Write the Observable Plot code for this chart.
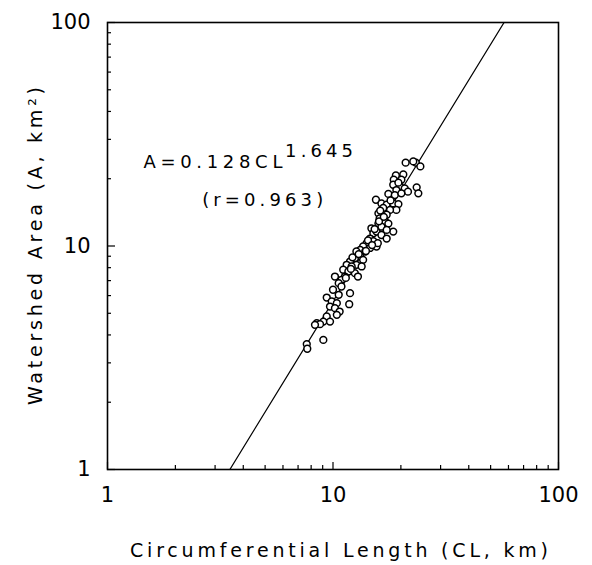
<!DOCTYPE html>
<html><head><meta charset="utf-8">
<script src="https://cdn.jsdelivr.net/npm/d3@7"></script>
<script src="https://cdn.jsdelivr.net/npm/@observablehq/plot@0.6"></script>
<style>body{margin:0;background:#fff}</style>
</head><body><div id="chart"></div>
<script>
// Circumferential length (km) and watershed area (km²) of each basin
const cl = [21.0, 23.3, 24.4, 22.7, 19.0, 20.5, 18.6, 20.1, 18.5, 19.8, 20.8, 19.1, 21.5, 23.5, 23.9, 17.6, 18.8, 20.1,
  15.5, 16.4, 17.3, 18.5, 19.5, 19.1, 17.9, 16.7, 15.9, 17.3, 16.1, 17.0, 17.6, 15.9, 16.4, 18.5, 17.3, 14.8, 15.1, 15.6,
  16.4, 17.3, 14.6, 15.1, 14.1, 13.6, 14.6, 15.6, 13.2, 13.9, 12.7, 13.2, 12.5, 13.6, 11.9, 11.5, 12.7, 12.1, 13.4, 11.1,
  11.7, 12.5, 10.2, 11.3, 12.9, 10.9, 10.6, 10.0, 10.9, 11.9, 10.6, 9.38, 9.87, 10.4, 9.70, 10.2, 10.7, 11.8, 10.4, 9.38,
  9.06, 8.47, 8.76, 9.70, 8.32, 9.06, 7.65, 7.69,
  14.3, 15.3, 16.0, 14.0, 13.0, 15.8, 16.8, 12.2, 16.2, 18.0, 19.5, 11.4, 12.0, 14.9];
const area = [23.6, 23.6, 22.7, 23.9, 20.7, 20.9, 19.8, 19.8, 18.8, 18.5, 18.1, 17.8, 17.5, 18.3, 17.2, 17.1, 16.9, 17.2,
  16.1, 15.5, 15.3, 15.5, 15.4, 14.5, 14.5, 14.8, 14.0, 13.8, 13.3, 12.9, 12.6, 12.6, 12.2, 11.6, 11.8, 12.0, 11.4, 11.6,
  11.2, 10.8, 10.8, 10.5, 10.3, 9.95, 9.8, 9.95, 9.6, 9.45, 9.45, 8.98, 8.82, 8.67, 8.52, 8.24, 8.24, 8.1, 8.1, 7.83,
  7.69, 7.56, 7.30, 7.30, 7.30, 7.06, 6.82, 6.37, 6.59, 6.15, 6.05, 5.88, 5.65, 5.55, 5.36, 5.27, 5.09, 5.49, 4.92, 4.84,
  4.59, 4.52, 4.47, 4.59, 4.44, 3.80, 3.64, 3.47,
  10.6, 11.9, 12.9, 9.5, 9.2, 10.3, 13.5, 8.9, 14.4, 16.0, 19.2, 7.2, 7.9, 10.1];

// Fitted power law A = a·CL^b
const fitCoef = 0.128;
const fitExp = 1.645;

const majorTicks = [1, 10, 100];
const minorTicks = [2, 3, 4, 5, 6, 7, 8, 9, 20, 30, 40, 50, 60, 70, 80, 90];

const xTitle = "Circumferential Length (CL, km)";
const yTitle = "Watershed Area (A, km²)";
const eqMain = "A=0.128CL";
const eqPower = "1.645";
const eqR = "(r=0.963)";

const points = cl.map((c, i) => ({cl: c, area: area[i]}));
const fitLine = majorTicks.map(x => ({x, y: fitCoef * Math.pow(x, fitExp)}));

const font = "'DejaVu Sans', 'Liberation Sans', Arial, sans-serif";

const chart = Plot.plot({
  width: 592,
  height: 565,
  marginLeft: 107,
  marginRight: 34,
  marginTop: 22,
  marginBottom: 96,
  style: {fontFamily: font, background: "white", color: "black"},
  x: {type: "log", domain: [1, 100], label: null},
  y: {type: "log", domain: [1, 100], label: null},
  marks: [
    Plot.axisX(minorTicks, {tickSize: -4, text: null, strokeWidth: 1.2}),
    Plot.axisX(majorTicks, {tickSize: -7, text: null, strokeWidth: 1.2}),
    Plot.axisX(majorTicks, {tickSize: 0, tickPadding: 18, fontSize: 21, tickFormat: d => String(d)}),
    Plot.axisY(minorTicks, {tickSize: -4, text: null, strokeWidth: 1.2}),
    Plot.axisY(majorTicks, {tickSize: -8, text: null, strokeWidth: 1.2}),
    Plot.axisY(majorTicks, {tickSize: 0, tickPadding: 17, fontSize: 21, tickFormat: d => String(d)}),
    Plot.line(fitLine, {x: "x", y: "y", stroke: "black", strokeWidth: 1.2, clip: true}),
    Plot.dot(points, {x: "cl", y: "area", r: 3.4, stroke: "black", fill: "white", strokeWidth: 1.5}),
    Plot.frame({stroke: "black", strokeWidth: 1.6}),
    Plot.text([eqMain], {text: d => d, x: 1.443, y: 23.6, textAnchor: "start", fontSize: 18, ariaDescription: "eqmain"}),
    Plot.text([eqPower], {text: d => d, x: 6.13, y: 26.6, textAnchor: "start", fontSize: 18, ariaDescription: "eqpow"}),
    Plot.text([eqR], {text: d => d, x: 2.63, y: 16.1, textAnchor: "start", fontSize: 18, ariaDescription: "eqr"}),
    Plot.text([xTitle], {text: d => d, frameAnchor: "bottom", lineAnchor: "middle", textAnchor: "middle", dy: 81, dx: 6, fontSize: 19, ariaDescription: "xtitle"}),
    Plot.text([yTitle], {text: d => d, frameAnchor: "left", lineAnchor: "middle", textAnchor: "middle", rotate: -90, dx: -72, fontSize: 19, ariaDescription: "ytitle"})
  ]
});

const widths = {eqmain: 139, eqpow: 68, eqr: 121, xtitle: 418, ytitle: 318};
for (const [key, w] of Object.entries(widths)) {
  d3.select(chart).selectAll(`g[aria-description="${key}"] text`)
    .attr("textLength", w).attr("lengthAdjust", "spacing");
}

document.getElementById("chart").appendChild(chart);
</script>
</body></html>
